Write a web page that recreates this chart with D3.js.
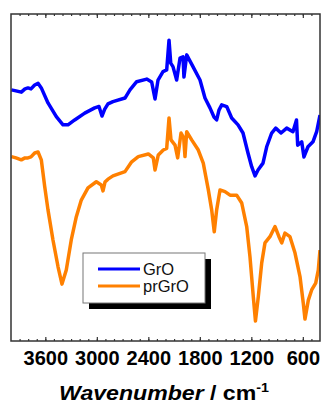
<!DOCTYPE html>
<html>
<head>
<meta charset="utf-8">
<script src="https://cdn.jsdelivr.net/npm/d3@7"></script>
<style>
  body { margin: 0; background: #fff; }
  svg { display: block; font-family: "Liberation Sans", Arial, sans-serif; }
</style>
</head>
<body>
<figure id="ftir" style="margin:0"></figure>
<script>
// wavenumber (cm-1) and transmittance (a.u.)
const groWn = [3996, 3942, 3880, 3837, 3802, 3767, 3724, 3685, 3647, 3569, 3472, 3394, 3336, 3258, 3141, 3025, 2975, 2940, 2908, 2870,
  2812, 2672, 2614, 2536, 2419, 2361, 2322, 2287, 2229, 2186, 2159, 2139, 2113, 2070, 2031, 1996, 1985, 1953, 1880, 1798,
  1740, 1682, 1635, 1604, 1577, 1545, 1487, 1429, 1355, 1297, 1239, 1196, 1157, 1122, 1064, 1021, 963, 916, 854, 788,
  715, 674, 660, 613, 587, 540, 482, 439, 400];
const groT = [76.8, 76.5, 76.1, 77.1, 77.4, 77.1, 78.3, 78.8, 77.4, 72.8, 68.6, 66.1, 66.1, 67.6, 69.7, 71.3, 71.7, 68.8, 70.9, 72.5,
  73.2, 74.3, 76.8, 79.3, 80.1, 79.2, 74.0, 79.8, 82.4, 82.9, 92.0, 85.0, 83.9, 79.8, 86.5, 86.9, 80.7, 87.5, 83.9, 79.8,
  74.3, 71.3, 68.5, 67.6, 70.6, 72.2, 71.7, 68.2, 66.1, 63.6, 57.5, 53.3, 50.5, 52.3, 54.4, 59.4, 63.6, 65.1, 63.6, 65.1,
  64.0, 67.6, 59.9, 60.9, 56.3, 59.4, 60.9, 64.0, 69.1];

const prgroWn = [3996, 3942, 3880, 3837, 3802, 3767, 3724, 3685, 3647, 3607, 3569, 3511, 3452, 3406, 3356, 3298, 3239, 3181, 3103, 3006,
  2948, 2928, 2905, 2870, 2812, 2672, 2594, 2517, 2400, 2342, 2322, 2284, 2226, 2186, 2159, 2136, 2089, 2058, 2019, 1988,
  1973, 1953, 1895, 1818, 1760, 1701, 1662, 1632, 1604, 1565, 1507, 1448, 1371, 1312, 1254, 1216, 1177, 1152, 1119, 1079,
  1041, 983, 924, 878, 846, 808, 750, 691, 633, 595, 575, 536, 497, 450, 420, 400];
const prgroT = [56.4, 56.0, 55.4, 56.0, 56.0, 56.3, 57.5, 57.8, 55.4, 47.2, 40.1, 30.9, 22.7, 17.4, 21.7, 30.9, 38.0, 43.1, 46.8, 48.7,
  47.7, 45.9, 48.6, 49.5, 50.5, 51.8, 54.8, 56.4, 57.2, 56.0, 52.3, 56.9, 58.4, 58.9, 68.2, 61.5, 59.9, 56.0, 63.6, 62.1,
  56.4, 64.0, 61.5, 58.4, 54.4, 46.2, 40.1, 33.4, 40.1, 46.2, 45.7, 44.6, 44.6, 42.2, 35.0, 25.8, 13.5, 6.1, 13.5, 23.9,
  30.0, 31.9, 35.0, 31.9, 30.0, 33.0, 31.9, 26.9, 19.7, 11.6, 6.7, 12.5, 15.6, 17.7, 21.7, 27.8];

const seriesNames = ["GrO", "prGrO"];
const seriesColors = ["#0000ff", "#ff8000"];
const majorTicks = [3600, 3000, 2400, 1800, 1200, 600];

const W = 321, H = 406;
const mLeft = 11, mRight = 320, mTop = 14, mBottom = 341;

const svg = d3.select("figure#ftir")
  .append("svg")
  .attr("width", W)
  .attr("height", H);

const x = d3.scaleLinear().domain([4000, 400]).range([mLeft, mRight]);
const y = d3.scaleLinear().domain([0, 100]).range([mBottom, mTop]);

const minorTicks = d3.range(3900, 400, -100);

// bottom axis, ticks pointing inwards
const gx = svg.append("g")
  .attr("transform", "translate(0," + mBottom + ")")
  .call(d3.axisBottom(x).tickValues(majorTicks).tickSize(-4).tickPadding(10).tickFormat(d3.format("d")));
gx.select(".domain").remove();
gx.selectAll("text")
  .attr("fill", "#000")
  .style("font-size", "20px")
  .style("font-weight", "bold");

svg.append("g")
  .attr("transform", "translate(0," + mBottom + ")")
  .call(d3.axisBottom(x).tickValues(minorTicks).tickSize(-2).tickFormat(""))
  .select(".domain").remove();

// top axis, no labels
const gt = svg.append("g")
  .attr("transform", "translate(0," + mTop + ")")
  .call(d3.axisTop(x).tickValues(majorTicks).tickSize(-4).tickFormat(""));
gt.select(".domain").remove();
svg.append("g")
  .attr("transform", "translate(0," + mTop + ")")
  .call(d3.axisTop(x).tickValues(minorTicks).tickSize(-2).tickFormat(""))
  .select(".domain").remove();

svg.selectAll(".tick line").attr("stroke", "#333").attr("stroke-width", 1.2);

// the spectra
const line = d3.line()
  .x(d => x(d[0]))
  .y(d => y(d[1]));

const series = [
  d3.zip(groWn, groT),
  d3.zip(prgroWn, prgroT)
];

svg.append("clipPath").attr("id", "plotclip")
  .append("rect")
  .attr("x", mLeft).attr("y", mTop)
  .attr("width", mRight - mLeft).attr("height", mBottom - mTop);

svg.append("g")
  .attr("clip-path", "url(#plotclip)")
  .selectAll("path")
  .data(series)
  .enter()
  .append("path")
  .attr("fill", "none")
  .attr("stroke", (d, i) => seriesColors[i])
  .attr("stroke-width", 3.5)
  .attr("stroke-linejoin", "round")
  .attr("d", line);

// frame
svg.append("rect")
  .attr("x", mLeft).attr("y", mTop)
  .attr("width", mRight - mLeft).attr("height", mBottom - mTop)
  .attr("fill", "none")
  .attr("stroke", "#333")
  .attr("stroke-width", 1.5);

// legend with drop shadow
const lg = svg.append("g").attr("transform", "translate(83,253)");
lg.append("rect")
  .attr("x", 6).attr("y", 6)
  .attr("width", 122).attr("height", 50)
  .attr("fill", "#000");
lg.append("rect")
  .attr("width", 122).attr("height", 50)
  .attr("fill", "#fff")
  .attr("stroke", "#777")
  .attr("stroke-width", 1);

const items = lg.selectAll(".item")
  .data(seriesNames)
  .enter()
  .append("g")
  .attr("transform", (d, i) => "translate(0," + (16 + i * 17) + ")");
items.append("line")
  .attr("x1", 15).attr("x2", 57)
  .attr("stroke", (d, i) => seriesColors[i])
  .attr("stroke-width", 3);
items.append("text")
  .attr("x", 60)
  .attr("y", 6)
  .style("font-size", "16.5px")
  .attr("fill", "#111")
  .text(d => d);

// axis title
const title = svg.append("text")
  .attr("transform", "translate(164,400) scale(1.1,1)")
  .attr("text-anchor", "middle")
  .style("font-size", "21px")
  .style("font-weight", "bold")
  .attr("fill", "#000");
title.append("tspan").style("font-style", "italic").text("Wavenumber");
title.append("tspan").text(" / cm");
title.append("tspan")
  .attr("dy", -8)
  .style("font-size", "13px")
  .text("-1");
</script>
</body>
</html>
